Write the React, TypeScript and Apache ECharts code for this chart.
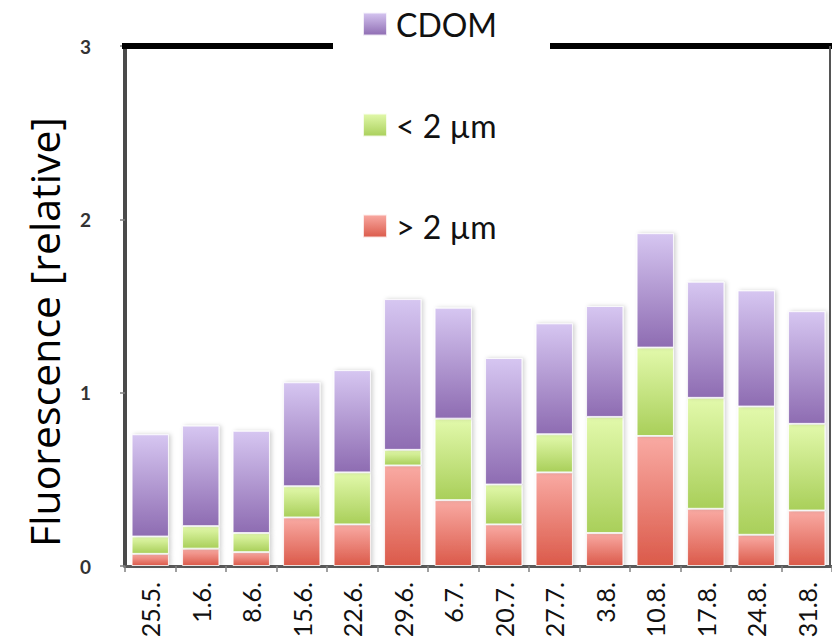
import React, { useEffect, useRef } from "react";
import * as echarts from "echarts";

const categories = ["25.5.", "1.6.", "8.6.", "15.6.", "22.6.", "29.6.", "6.7.", "20.7.", "27.7.", "3.8.", "10.8.", "17.8.", "24.8.", "31.8."];
const largeFraction = [0.07, 0.10, 0.08, 0.28, 0.24, 0.58, 0.38, 0.24, 0.54, 0.19, 0.75, 0.33, 0.18, 0.32]; // > 2 µm
const smallFraction = [0.10, 0.13, 0.11, 0.18, 0.30, 0.09, 0.47, 0.23, 0.22, 0.67, 0.51, 0.64, 0.74, 0.50]; // < 2 µm
const cdomFraction = [0.59, 0.58, 0.59, 0.60, 0.59, 0.87, 0.64, 0.73, 0.64, 0.64, 0.66, 0.67, 0.67, 0.65]; // CDOM
const seriesNames = ["> 2 µm", "< 2 µm", "CDOM"];
const legendOrder = ["CDOM", "< 2 µm", "> 2 µm"];
const yTitle = "Fluorescence [relative]";

const FONT = "Lato, 'Open Sans', sans-serif";
const TITLE_FONT = "'Open Sans', Lato, sans-serif";

export default function App() {
  const ref = useRef<HTMLDivElement>(null);

  useEffect(() => {
    const chart = echarts.init(ref.current!, null, { renderer: "svg" });
    const grad = (top: string, bottom: string) =>
      new echarts.graphic.LinearGradient(0, 0, 0, 1, [
        { offset: 0, color: top },
        { offset: 1, color: bottom },
      ]);
    const baseItem = {
      borderColor: "rgba(255,255,255,0.8)",
      borderWidth: 1,
      shadowBlur: 4,
      shadowColor: "rgba(0,0,0,0.18)",
      shadowOffsetX: 2,
      shadowOffsetY: 0,
    };
    const values = [largeFraction, smallFraction, cdomFraction];
    const colors = [
      grad("#f9aaa3", "#db5a4a"),
      grad("#e2f9ab", "#a9cf5a"),
      grad("#d6c6f1", "#8e6cb2"),
    ];

    chart.setOption({
      animation: false,
      grid: { left: 125, top: 46, width: 710, height: 520, containLabel: false },
      legend: {
        data: legendOrder,
        orient: "vertical",
        left: 362,
        top: 8,
        padding: 0,
        itemWidth: 24,
        itemHeight: 23,
        itemGap: 69,
        icon: "rect",
        textStyle: {
          fontFamily: FONT,
          fontSize: 32,
          lineHeight: 32,
          color: "#111",
          padding: [0, 0, 0, 4],
        },
      },
      xAxis: {
        type: "category",
        data: categories,
        axisLine: { show: true, lineStyle: { color: "#5a5a5a", width: 3 } },
        axisTick: { show: true, length: 6, lineStyle: { color: "#808080", width: 1.5 } },
        axisLabel: {
          rotate: 90,
          interval: 0,
          fontFamily: FONT,
          fontSize: 25,
          color: "#111",
          margin: 16,
        },
        splitLine: { show: false },
      },
      yAxis: {
        type: "value",
        min: 0,
        max: 3,
        interval: 1,
        axisLine: { show: true, lineStyle: { color: "#4a4a4a", width: 4 } },
        axisTick: { show: true, length: 5, lineStyle: { color: "#808080", width: 1.5 } },
        axisLabel: {
          fontFamily: FONT,
          fontSize: 19,
          fontWeight: "bold",
          color: "#333",
          margin: 34,
        },
        splitLine: { show: false },
      },
      series: seriesNames.map((name, i) => ({
        name,
        type: "bar",
        stack: "total",
        barCategoryGap: "26%",
        data: values[i],
        itemStyle: { ...baseItem, color: colors[i] },
      })),
      graphic: [
        {
          type: "line",
          shape: { x1: 122, y1: 46, x2: 333, y2: 46 },
          style: { stroke: "#000", lineWidth: 6 },
          z: 10,
        },
        {
          type: "line",
          shape: { x1: 550, y1: 46, x2: 832, y2: 46 },
          style: { stroke: "#000", lineWidth: 6 },
          z: 10,
        },
        {
          type: "line",
          shape: { x1: 830, y1: 46, x2: 830, y2: 566 },
          style: { stroke: "#555", lineWidth: 2 },
          z: 10,
        },
        {
          type: "text",
          x: 44,
          y: 332,
          rotation: Math.PI / 2,
          style: {
            text: yTitle,
            font: `41px ${TITLE_FONT}`,
            fill: "#000",
            textAlign: "center",
            textVerticalAlign: "middle",
          },
        },
      ],
    });
    return () => chart.dispose();
  }, []);

  return <div ref={ref} style={{ position: "absolute", left: 0, top: 0, width: 832, height: 643 }} />;
}
